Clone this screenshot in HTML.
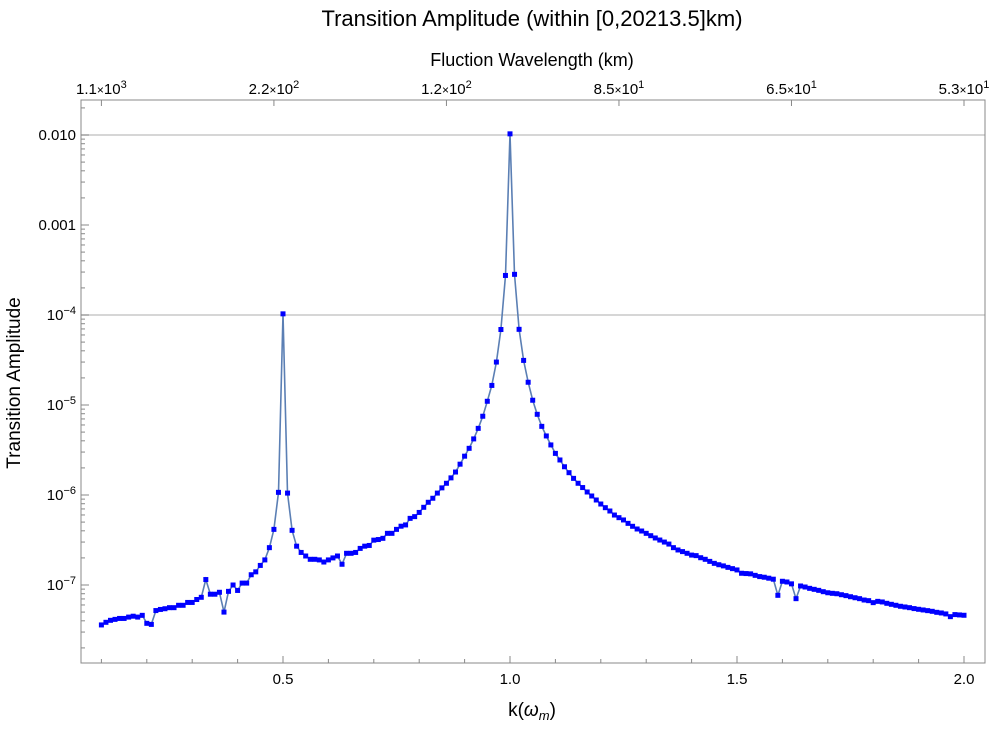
<!DOCTYPE html>
<html><head><meta charset="utf-8"><style>
body{margin:0;background:#fff;}
svg text{font-family:"Liberation Sans",sans-serif;fill:#000;}
</style></head><body>
<svg id="chart" width="1000" height="724" viewBox="0 0 1000 724" xmlns="http://www.w3.org/2000/svg">
<text x="532" y="26" font-size="22" text-anchor="middle">Transition Amplitude (within [0,20213.5]km)</text>
<text x="532" y="66" font-size="18" text-anchor="middle">Fluction Wavelength (km)</text>
<text x="532" y="716" font-size="19" text-anchor="middle">k(<tspan font-style="italic">ω</tspan><tspan font-style="italic" font-size="13" dy="4">m</tspan><tspan dy="-4">)</tspan></text>
<text transform="translate(20,383) rotate(-90)" font-size="19" text-anchor="middle">Transition Amplitude</text>
<g id="grid"></g><g id="axes"></g><g id="series"></g>
<rect x="81" y="100" width="904" height="563" fill="none" stroke="#888" stroke-width="1"/>
</svg>
<script>
const kStart = 0.10, kStep = 0.01;
const amplitudes = [
3.6e-8,3.85e-8,4.05e-8,4.15e-8,4.25e-8,4.25e-8,4.4e-8,4.5e-8,4.4e-8,4.6e-8,
3.75e-8,3.65e-8,5.2e-8,5.35e-8,5.45e-8,5.6e-8,5.6e-8,5.95e-8,5.95e-8,6.4e-8,
6.4e-8,6.9e-8,7.3e-8,1.15e-7,7.9e-8,7.9e-8,8.3e-8,5.0e-8,8.5e-8,1.0e-7,
8.7e-8,1.05e-7,1.05e-7,1.3e-7,1.4e-7,1.65e-7,1.9e-7,2.6e-7,4.15e-7,1.07e-6,
1.03e-4,1.05e-6,4.05e-7,2.7e-7,2.3e-7,2.1e-7,1.93e-7,1.93e-7,1.9e-7,1.8e-7,
1.9e-7,2.0e-7,2.1e-7,1.7e-7,2.25e-7,2.25e-7,2.3e-7,2.55e-7,2.7e-7,2.75e-7,
3.15e-7,3.2e-7,3.3e-7,3.75e-7,3.75e-7,4.15e-7,4.5e-7,4.65e-7,5.5e-7,5.75e-7,
6.4e-7,7.3e-7,8.3e-7,9.2e-7,1.05e-6,1.2e-6,1.35e-6,1.55e-6,1.8e-6,2.2e-6,
2.7e-6,3.3e-6,4.2e-6,5.5e-6,7.5e-6,1.1e-5,1.65e-5,3.0e-5,6.9e-5,2.75e-4,
1.03e-2,
2.83e-4,6.93e-5,3.13e-5,1.79e-5,1.13e-5,7.88e-6,5.79e-6,4.53e-6,3.6e-6,2.9e-6,
2.45e-6,2.06e-6,1.77e-6,1.53e-6,1.35e-6,1.21e-6,1.08e-6,9.75e-7,8.8e-7,7.94e-7,
7.23e-7,6.64e-7,5.99e-7,5.6e-7,5.28e-7,4.84e-7,4.49e-7,4.19e-7,3.98e-7,3.75e-7,
3.53e-7,3.33e-7,3.16e-7,3.0e-7,2.85e-7,2.6e-7,2.45e-7,2.35e-7,2.25e-7,2.15e-7,
2.12e-7,2.01e-7,1.93e-7,1.83e-7,1.74e-7,1.68e-7,1.63e-7,1.57e-7,1.52e-7,1.47e-7,
1.35e-7,1.34e-7,1.33e-7,1.28e-7,1.24e-7,1.22e-7,1.19e-7,1.16e-7,7.68e-8,1.10e-7,
1.08e-7,1.03e-7,7.05e-8,9.75e-8,9.5e-8,9.18e-8,8.95e-8,8.72e-8,8.43e-8,8.2e-8,
8.08e-8,8.0e-8,7.8e-8,7.62e-8,7.41e-8,7.22e-8,7.05e-8,6.81e-8,6.7e-8,6.37e-8,
6.58e-8,6.48e-8,6.26e-8,6.1e-8,5.95e-8,5.8e-8,5.7e-8,5.6e-8,5.47e-8,5.37e-8,
5.28e-8,5.19e-8,5.1e-8,4.97e-8,4.89e-8,4.77e-8,4.45e-8,4.69e-8,4.65e-8,4.61e-8
];
const xTickValues = [0.5, 1.0, 1.5, 2.0];
const xTickLabels = ["0.5", "1.0", "1.5", "2.0"];
const yTickExps = [-2, -3, -4, -5, -6, -7];
const yTickLabels = ["0.010", "0.001", "10^-4", "10^-5", "10^-6", "10^-7"];
const gridExps = [-2, -4];
const topTickK = [0.1, 0.48, 0.86, 1.24, 1.62, 2.0];
const topTickMant = ["1.1", "2.2", "1.2", "8.5", "6.5", "5.3"];
const topTickPow = ["3", "2", "2", "1", "1", "1"];

const NS = "http://www.w3.org/2000/svg";
const X0 = 81, X1 = 985, Y0 = 100, Y1 = 663;
function xScale(k){ return 101.4 + (k - 0.1) * 454; }
function yScale(v){ return 135 - 90 * (Math.log10(v) + 2); }
function mk(tag, attrs, parent){ const e = document.createElementNS(NS, tag); for (const a in attrs) e.setAttribute(a, attrs[a]); parent.appendChild(e); return e; }
const grid = document.getElementById('grid'), axes = document.getElementById('axes'), series = document.getElementById('series');

gridExps.forEach(function(ex){
  const y = yScale(Math.pow(10, ex));
  const g = mk('line', {x1:X0, x2:X1, y1:y, y2:y, stroke:'#c8c8c8', 'stroke-width':1.5}, grid);
  
  
});

for (let i = 1; i <= 20; i++) {
  const k = i / 10; const x = xScale(k); const major = (i % 5 === 0);
  mk('line', {x1:x, x2:x, y1:Y1, y2:Y1 - (major ? 7 : 4), stroke:'#888'}, axes);
}
xTickValues.forEach(function(v, i){
  const t = mk('text', {x:xScale(v), y:Y1 + 21, 'font-size':15, 'text-anchor':'middle'}, axes);
  t.textContent = xTickLabels[i];
  
  
});
topTickK.forEach(function(k, i){
  const x = xScale(k);
  mk('line', {x1:x, x2:x, y1:Y0, y2:Y0 + 6, stroke:'#888'}, axes);
  const t = mk('text', {x:x, y:Y0 - 6, 'font-size':15, 'text-anchor':'middle'}, axes);
  
  
  t.innerHTML = topTickMant[i] + '<tspan font-size="12">×</tspan>10<tspan font-size="11" dy="-6">' + topTickPow[i] + '</tspan>';
});
for (let ex = -8; ex <= -2; ex++) {
  for (let m = 1; m <= 9; m++) {
    const v = m * Math.pow(10, ex); const y = yScale(v);
    if (y < Y0 || y > Y1) continue;
    mk('line', {x1:X0, x2:X0 + (m === 1 ? 8 : 4), y1:y, y2:y, stroke:'#888'}, axes);
  }
}
yTickExps.forEach(function(ex, i){
  const y = yScale(Math.pow(10, ex));
  const t = mk('text', {x:X0 - 5, y:y + 5, 'font-size':15, 'text-anchor':'end'}, axes);
  
  
  const lab = yTickLabels[i];
  if (lab.indexOf('^') > 0) { const p = lab.split('^'); t.innerHTML = p[0] + '<tspan font-size="11" dy="-6">' + p[1].replace('-', '−') + '</tspan>'; }
  else t.textContent = lab;
});

let pts = amplitudes.map(function(v, i){ return [xScale(kStart + i * kStep), yScale(v)]; });
const line = mk('polyline', {points: pts.map(function(p){ return p[0].toFixed(1) + ',' + p[1].toFixed(1); }).join(' '), fill:'none', stroke:'#5b7fb4', 'stroke-width':1.6}, series);


pts.forEach(function(p){
  const r = mk('rect', {x:p[0] - 2.5, y:p[1] - 2.5, width:5, height:5, fill:'#0000ff'}, series);
  
  
});
</script>
</body></html>
